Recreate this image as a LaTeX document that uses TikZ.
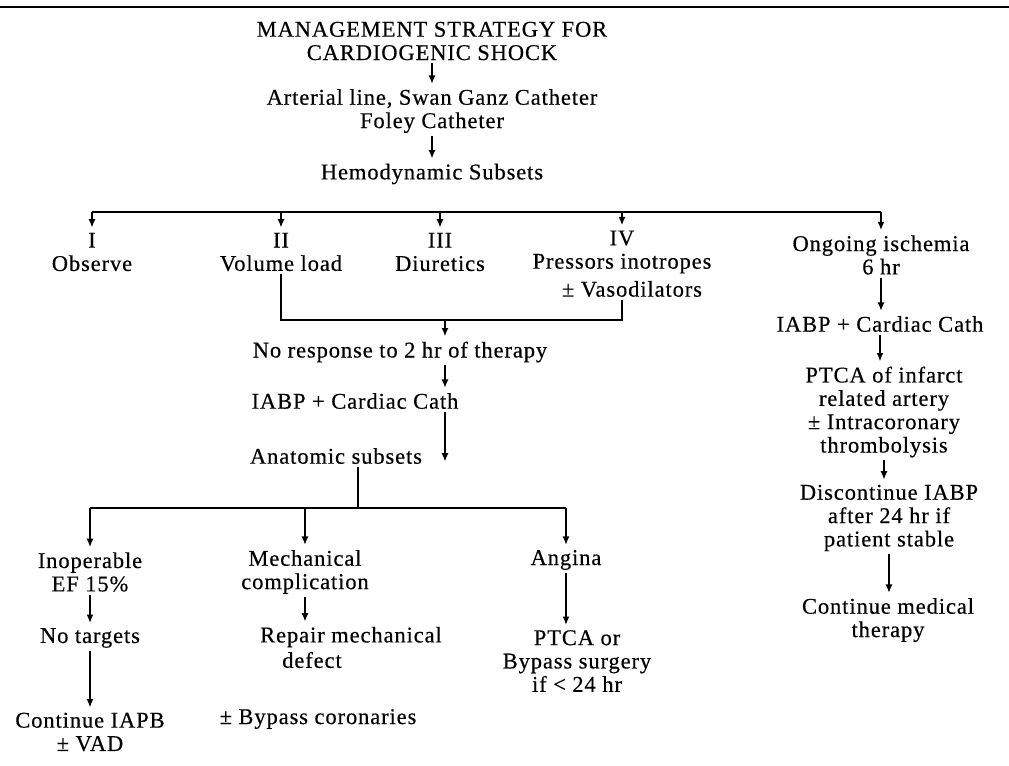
\documentclass[tikz,border=0pt]{standalone}
\usepackage{fontspec}
\setmainfont{Liberation Serif}[LetterSpace=4,FakeBold=0.4]
\usetikzlibrary{arrows.meta}

\begin{document}
\begin{tikzpicture}[x=0.025cm,y=-0.025cm,
  txt/.style={inner sep=2pt,font=\fontsize{16}{16.6}\selectfont,align=center},
  ln/.style={line width=1.2pt},
  arr/.style={ln,-{Latex[length=6pt,width=5pt]},shorten >=1.5pt}]
\useasboundingbox (0,0) rectangle (1009,765);
\draw[line width=1.8pt] (0,7)--(1009,7);
% top
\node[txt] (title) at (432,41) {MANAGEMENT STRATEGY FOR\\CARDIOGENIC SHOCK};
\node[txt] (lines) at (432,111) {Arterial line, Swan Ganz Catheter\\Foley Catheter};
\node[txt] (hemo) at (432,174) {Hemodynamic Subsets};
\draw[arr] (title) -- (lines);
\draw[arr] (lines) -- (hemo);
% hemodynamic subsets
\coordinate (hL) at (92,212); \coordinate (hR) at (881,212);
\node[txt] (s1) at (92,252) {I\\Observe};
\node[txt] (s2) at (281,252) {II\\Volume load};
\node[txt] (s3) at (440,252) {III\\Diuretics};
\node[txt] (s4) at (622,252) {IV\\Pressors inotropes};
\node[txt] (vaso) at (632,289) {± Vasodilators};
\node[txt] (isch) at (881,255) {Ongoing ischemia\\6 hr};
\draw[ln] (hL) -- (hR);
\foreach \n in {s1,s2,s3,s4,isch} \draw[arr] (\n.north |- hL) -- (\n.north);
% right column
\node[txt] (ibr) at (880,324) {IABP + Cardiac Cath};
\node[txt] (ptca) at (884,412) {PTCA of infarct\\related artery\\± Intracoronary\\thrombolysis};
\node[txt] (disc) at (889,518) {Discontinue IABP\\after 24 hr if\\patient stable};
\node[txt] (cmed) at (888,620) {Continue medical\\therapy};
\draw[arr] (isch.south) -- (isch.south |- ibr.north);
\draw[arr] (ibr.south) -- (ibr.south |- ptca.north);
\draw[arr] (ptca.south) -- (ptca.south |- disc.north);
\draw[arr] (disc.south) -- (disc.south |- cmed.north);
% no response branch
\coordinate (brk) at (445,320);
\node[txt] (nors) at (400,352) {No response to 2 hr of therapy};
\node[txt] (ibl) at (355,401) {IABP + Cardiac Cath};
\node[txt] (anat) at (336,456) {Anatomic subsets};
\draw[ln] (s2.south) |- (s4.south |- brk) -- (s4.south |- vaso.south);
\draw[arr] (brk) -- (nors.north -| brk);
\draw[arr] (nors.south -| brk) -- (ibl.north -| brk);
\draw[arr] (ibl.south -| brk) -- (anat.base -| brk);
% anatomic subsets
\coordinate (hub) at (358,508);
\node[txt] (inop) at (90,572) {Inoperable\\EF 15\%};
\node[txt] (mech) at (305,572) {Mechanical\\complication};
\node[txt] (ang) at (566,560) {Angina};
\draw[ln] (anat.south -| hub) -- (hub);
\draw[ln] (inop.north |- hub) -- (ang.north |- hub);
\foreach \n in {inop,mech,ang} \draw[arr] (\n.north |- hub) -- (\n.north);
\node[txt] (notg) at (90,638) {No targets};
\node[txt] (ciapb) at (90,732) {Continue IAPB\\± VAD};
\node[txt] (rep) at (351,637) {Repair mechanical};
\node[txt] (dfct) at (312,660) {defect};
\node[txt] (byp) at (318,719) {± Bypass coronaries};
\node[txt] (surg) at (577,661) {PTCA or\\Bypass surgery\\if < 24 hr};
\draw[arr] (inop.south) -- (inop.south |- notg.north);
\draw[arr] (notg.south) -- (notg.south |- ciapb.north);
\draw[arr] (mech.south) -- (mech.south |- rep.north);
\draw[arr] (ang.south) -- (ang.south |- surg.north);
\end{tikzpicture}
\end{document}
